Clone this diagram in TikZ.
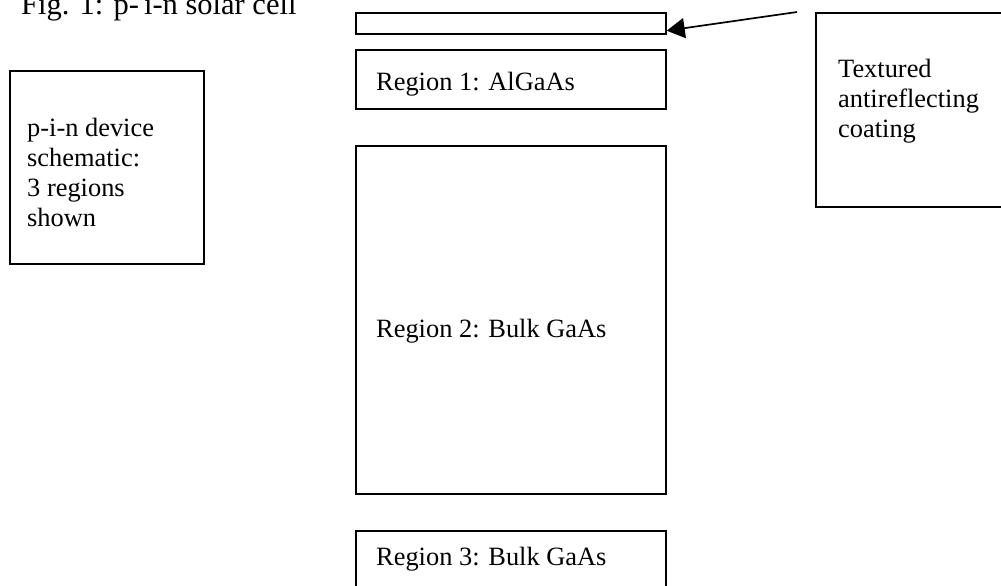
\documentclass[tikz,border=0pt]{standalone}
\usepackage{fontspec}
\setmainfont{Liberation Serif}
\usetikzlibrary{arrows.meta,calc}
\begin{document}
\begin{tikzpicture}[x=1pt,y=-1pt,
  box/.style={draw, line width=1.7pt, inner sep=0pt, anchor=north west},
  txt/.style={anchor=base west, inner sep=0pt, align=left,
    font=\fontsize{26.4}{29.7}\selectfont},
  arr/.style={line width=1.7pt, -{Triangle[length=18pt,width=20pt]}}]
\useasboundingbox (0,0) rectangle (1001,586);
\clip (0,0) rectangle (1001,586);
% title
\node[anchor=base west, inner sep=0pt, font=\fontsize{30.5}{34}\selectfont] (title) at (21,15) {Fig. 1: p-\,i-n solar cell};
% boxes
\node[box, minimum width=194pt, minimum height=193pt] (pin) at (9,70) {};
\node[box, minimum width=310pt, minimum height=21pt] (coat) at (355,12) {};
\node[box, minimum width=310pt, minimum height=59pt] (r1) at (355,49) {};
\node[box, minimum width=310pt, minimum height=348pt] (r2) at (355,145) {};
\node[box, minimum width=310pt, minimum height=80pt] (r3) at (355,530) {};
\node[box, minimum width=200pt, minimum height=194pt] (tex) at (815,12) {};
% texts (base anchor = baseline of the last line)
\node[txt] (pintxt) at (27,226) {p-i-n device\\schematic:\\3 regions\\shown};
\node[txt] (textxt) at (838,137) {Textured\\antireflecting\\coating};
\node[txt] (r1txt) at (376,90) {Region 1: AlGaAs};
\node[txt] (r2txt) at (376,337) {Region 2: Bulk GaAs};
\node[txt] (r3txt) at (376,565) {Region 3: Bulk GaAs};
% arrow
\coordinate (src) at (797,12);
\coordinate (tip) at ($(coat.south east)+(0,-4)$);
\draw[arr] (src) -- (tip);
\end{tikzpicture}
\end{document}
